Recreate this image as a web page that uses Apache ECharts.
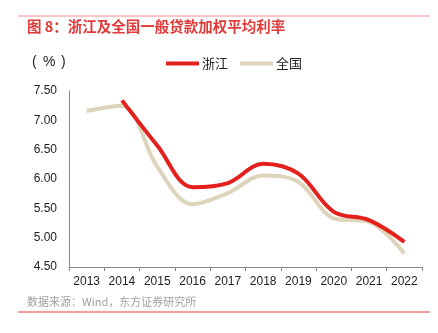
<!DOCTYPE html>
<html><head><meta charset="utf-8">
<script src="https://cdn.jsdelivr.net/npm/echarts@6/dist/echarts.min.js"></script>
<style>html,body{margin:0;padding:0;background:#fff}#c{width:438px;height:333px}</style>
</head><body><div id="c"></div>
<script>
const years = ['2013','2014','2015','2016','2017','2018','2019','2020','2021','2022'];
const zhejiang = [null, 7.34, 6.57, 5.86, 5.93, 6.26, 6.09, 5.44, 5.30, 4.93];
const national = [7.16, 7.25, 6.21, 5.57, 5.76, 6.06, 5.95, 5.33, 5.27, 4.73];
const yTicks = [4.5, 7.5, 0.5];

const chart = echarts.init(document.getElementById('c'));
const font = '"Noto Sans CJK SC", "Liberation Sans", sans-serif';
const lfont = '14px "Liberation Sans", sans-serif';
chart.setOption({
  animation: false,
  textStyle: {fontFamily: font},
  graphic: [
    {type: 'line', shape: {x1: 18, y1: 16, x2: 430, y2: 16}, style: {stroke: '#f08c8c', lineWidth: 1}},
    {type: 'text', left: 27, top: 19, style: {text: '图 8：浙江及全国一般贷款加权平均利率', fill: '#e03a3a', font: 'bold 14.5px ' + font}},
    {type: 'text', left: 32, top: 55, style: {text: '(', fill: '#222', font: lfont}},
    {type: 'text', left: 43, top: 55, style: {text: '%', fill: '#222', font: lfont}},
    {type: 'text', left: 61, top: 55, style: {text: ')', fill: '#222', font: lfont}},
    {type: 'text', left: 27, top: 296, style: {text: '数据来源：Wind，东方证券研究所', fill: '#a0a0a0', font: '11px ' + font}},
    {type: 'line', shape: {x1: 18, y1: 312, x2: 430, y2: 312}, style: {stroke: '#e83a3a', lineWidth: 1}}
  ],
  legend: {
    top: 52, left: 161,
    itemWidth: 33, itemHeight: 4, itemGap: 12,
    textStyle: {fontSize: 13, color: '#222', fontFamily: font, padding: [0,0,0,-2]},
    data: [
      {name: '浙江', icon: 'rect', itemStyle: {color: '#e3201b'}},
      {name: '全国', icon: 'rect', itemStyle: {color: '#ddd4bb'}}
    ]
  },
  grid: {left: 69, right: 16, top: 91, bottom: 66},
  xAxis: {
    type: 'category', data: years, boundaryGap: true,
    axisLine: {lineStyle: {color: '#888'}},
    axisTick: {show: true, length: 4, lineStyle: {color: '#888'}},
    axisLabel: {color: '#222', fontSize: 12, margin: 9, fontFamily: 'Liberation Sans, Arial, sans-serif'}
  },
  yAxis: {
    type: 'value', min: yTicks[0], max: yTicks[1], interval: yTicks[2],
    axisLine: {show: true, lineStyle: {color: '#888'}},
    axisTick: {show: false},
    splitLine: {show: false},
    axisLabel: {color: '#222', fontSize: 12, margin: 12, fontFamily: 'Liberation Sans, Arial, sans-serif',
      formatter: v => v.toFixed(2)}
  },
  series: [
    {name: '全国', type: 'line', data: national, smooth: 0.35, symbol: 'none', z: 2,
      lineStyle: {color: '#ddd4bb', width: 4}, itemStyle: {color: '#ddd4bb'}},
    {name: '浙江', type: 'line', data: zhejiang, smooth: 0.35, symbol: 'none', z: 3,
      lineStyle: {color: '#e3201b', width: 4}, itemStyle: {color: '#e3201b'}}
  ]
});
</script></body></html>
